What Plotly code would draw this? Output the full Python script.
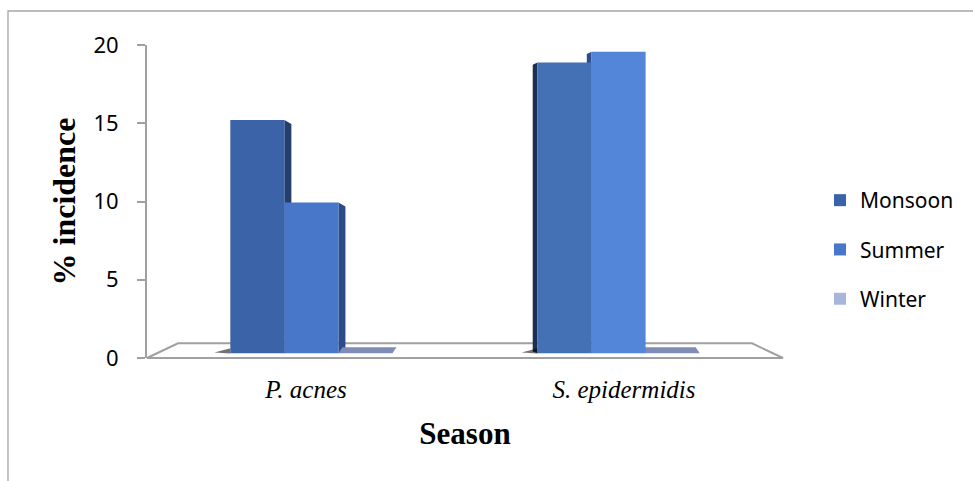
import plotly.graph_objects as go

# ---- data -------------------------------------------------------------
categories = ["P. acnes", "S. epidermidis"]
seasons = ["Monsoon", "Summer", "Winter"]
monsoon = [15.0, 18.7]
summer = [9.7, 19.4]
winter = [0.0, 0.0]
y_ticks = [0, 5, 10, 15, 20]

# ---- canvas / plot-area geometry (pixels) -----------------------------
W, H = 973, 481
ML, MR, MT, MB = 147, 190, 45, 123
PW = W - ML - MR
PH = H - MT - MB


def px_x(px):
    """pixel column -> paper x"""
    return (px - ML) / PW


def px_y(py):
    """pixel row -> paper y"""
    return (H - MB - py) / PH


# bars stand a little behind the front edge of the floor, so they use their
# own (hidden) value axis whose zero sits a few pixels above the front edge
BAR_ZERO_PX = 353.3
BAR_SCALE = 15.55  # pixels per unit at bar depth
y2_range = [-(H - MB - BAR_ZERO_PX) / BAR_SCALE, (BAR_ZERO_PX - MT) / BAR_SCALE]

BAR_W = 0.17
PULL = [0.017, -0.017]  # perspective pull toward the middle of the floor

front_cols = {
    "Monsoon": ["#3b63a8", "#4470b5"],
    "Summer": ["#4876c8", "#5385d9"],
    "Winter": ["#a6b6dc", "#a6b6dc"],
}
side_cols = {
    "Monsoon": ["#243f6e", "#1b2e54"],
    "Summer": ["#2c4b88", "#2d4d8c"],
}
series = {"Monsoon": monsoon, "Summer": summer, "Winter": winter}


def offset(k, i):
    return -1.5 * BAR_W + k * BAR_W + PULL[i]


fig = go.Figure()

# empty trace that carries the visible value axis
fig.add_trace(go.Scatter(x=categories, y=[None] * len(categories), mode="markers",
                         showlegend=False, hoverinfo="skip"))

for k, name in enumerate(seasons):
    fig.add_trace(go.Bar(
        name=name,
        x=categories,
        y=series[name],
        width=[BAR_W] * len(categories),
        offset=[offset(k, i) for i in range(len(categories))],
        marker=dict(color=front_cols[name], line=dict(width=0)),
        yaxis="y2",
        legendgroup=name,
    ))

shapes = []

# outer chart frame
shapes.append(dict(type="rect", xref="paper", yref="paper",
                   x0=px_x(8), x1=px_x(995), y0=px_y(11), y1=px_y(500),
                   line=dict(color="#a6a6a6", width=1.3), fillcolor="rgba(0,0,0,0)",
                   layer="below"))

# floor of the 3-D plot area
shapes.append(dict(type="path", xref="paper", yref="paper",
                   path=f"M 0,0 L {px_x(178)},{px_y(343.3)} L {px_x(752)},{px_y(343.3)} L 1,0 Z",
                   line=dict(color="#a0a0a0", width=2), fillcolor="white", layer="below"))

# depth faces of the columns
DX_R, DX_L = 0.022, -0.015
for k, name in enumerate(["Monsoon", "Summer"]):
    vals = series[name]
    for i, v in enumerate(vals):
        if i == 0:
            xe = i + offset(k, i) + BAR_W
            dx, drop = DX_R, 0.26
        else:
            xe = i + offset(k, i)
            dx, drop = DX_L, 0.15
        shapes.append(dict(
            type="path", xref="x", yref="y2", layer="below",
            path=f"M {xe},0 L {xe},{v} L {xe + dx},{v - drop} L {xe + dx},0.12 Z",
            line=dict(width=0), fillcolor=side_cols[name][i]))

# flat top of the zero-height winter columns
SLAB_DEPTH = 0.39
for i, v in enumerate(winter):
    x0 = i + offset(2, i)
    x1 = x0 + BAR_W
    sh = 0.0125 if i == 0 else -0.0125
    shapes.append(dict(
        type="path", xref="x", yref="y2", layer="below",
        path=f"M {x0},{v} L {x0 + sh},{v + SLAB_DEPTH} L {x1 + sh},{v + SLAB_DEPTH} L {x1},{v} Z",
        line=dict(width=0), fillcolor="#7f8db6"))

# soft contact shadows at the foot of the first column in each group
for i in range(len(categories)):
    x0 = i + offset(0, i)
    shapes.append(dict(
        type="path", xref="x", yref="y2", layer="below",
        path=f"M {x0 - 0.05},0.05 L {x0},0.33 L {x0},-0.02 Z",
        line=dict(width=0), fillcolor="rgba(0,0,0,0.55)"))

fig.update_layout(
    width=W, height=H,
    margin=dict(l=ML, r=MR, t=MT, b=MB, autoexpand=False),
    paper_bgcolor="white", plot_bgcolor="rgba(0,0,0,0)",
    barmode="overlay",
    showlegend=True,
    legend=dict(
        x=px_x(820), xanchor="left", y=px_y(249.5), yanchor="middle",
        font=dict(family="Noto Sans", size=21, color="#000000"),
        traceorder="grouped", tracegroupgap=19,
        bgcolor="rgba(0,0,0,0)",
    ),
    xaxis=dict(
        type="category", range=[-0.5, len(categories) - 0.5],
        showline=False, showgrid=False, zeroline=False, ticks="",
        tickfont=dict(family="Liberation Serif", size=25, style="italic", color="#000000"),
        ticklabelstandoff=14,
        title=dict(text="Season", standoff=20,
                   font=dict(family="Liberation Serif", size=31, weight="bold", color="#000000")),
        automargin=False, fixedrange=True,
    ),
    yaxis=dict(
        range=[0, 20], tickvals=y_ticks, showgrid=False, zeroline=False,
        showline=True, linecolor="#a0a0a0", linewidth=2,
        ticks="outside", ticklen=8, tickcolor="#a0a0a0", tickwidth=2,
        tickfont=dict(family="Noto Sans", size=22, color="#000000"),
        ticklabelstandoff=14,
        title=dict(text="% incidence", standoff=8,
                   font=dict(family="Liberation Serif", size=32, weight="bold", color="#000000")),
        automargin=False, fixedrange=True,
    ),
    yaxis2=dict(
        overlaying="y", range=y2_range, visible=False, showgrid=False,
        zeroline=False, fixedrange=True,
    ),
    shapes=shapes,
)

fig.write_html("out.html")
